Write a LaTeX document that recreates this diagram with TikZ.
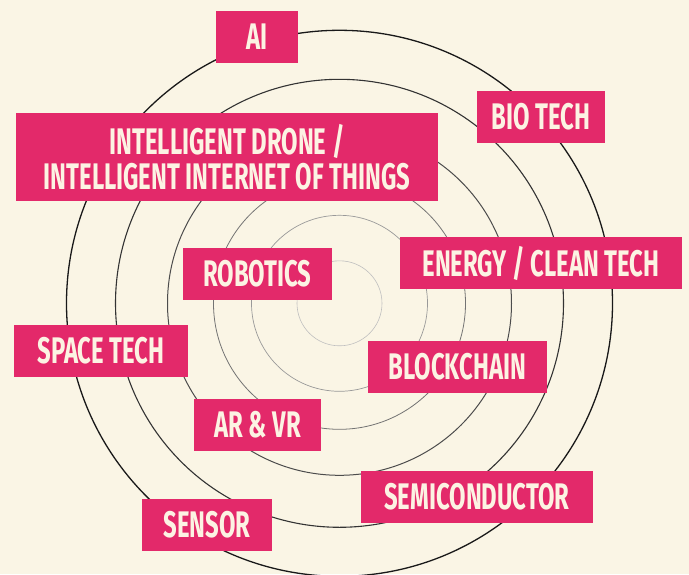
\documentclass[tikz,border=0pt]{standalone}
\usepackage{fontspec}
\newfontfamily\tagfont[FakeStretch=0.645]{Fira Sans}
\usetikzlibrary {positioning}

\definecolor{paper}{HTML}{FAF5E5}
\definecolor{techpink}{HTML}{E3296A}
\definecolor{tagtext}{HTML}{FCF3E3}

\begin{document}
\begin{tikzpicture}[
    x=1pt,
    y=-1pt,
    tag/.style={
        fill=techpink,
        text=tagtext,
        inner sep=0pt,
        minimum height=52pt,
        align=center,
        font=\tagfont\bfseries\fontsize{37}{35}\selectfont,
    },
]

    \fill[paper] (0,0) rectangle (689,574);
    \useasboundingbox (0,0) rectangle (689,574);

    \coordinate (ctr) at (339.5,303.3);

    % rings, outer to inner
    \foreach \r/\shade/\lw in {273/90/1.3, 224/80/1.1, 172/70/1.0, 126/55/0.8, 88/40/0.7, 42.5/25/0.6}
        \draw[black!\shade, line width=\lw pt] (ctr) circle (\r);

    \node[tag, minimum width=82pt]  (ai)     at (257,37)      {AI};
    \node[tag, minimum width=128pt] (bio)    at (541,116.5)   {BIO TECH};
    \node[tag, minimum width=422pt, minimum height=88pt]
                                    (drone)  at (227,157)     {INTELLIGENT DRONE /\\INTELLIGENT INTERNET OF THINGS};
    \node[tag, minimum width=282pt] (energy) at (541,263)     {ENERGY / CLEAN TECH};
    \node[tag, minimum width=149pt] (robot)  at (257.5,273.5) {ROBOTICS};
    \node[tag, minimum width=174pt] (space)  at (101,350.5)   {SPACE TECH};
    \node[tag, minimum width=179pt] (block)  at (457.5,366.5) {BLOCKCHAIN};
    \node[tag, minimum width=127pt] (arvr)   at (257.5,424.5) {AR \& VR};
    \node[tag, minimum width=232pt] (semi)   at (477,496.5)   {SEMICONDUCTOR};
    \node[tag, minimum width=130pt] (sensor) at (207,524.5)   {SENSOR};

\end{tikzpicture}
\end{document}
